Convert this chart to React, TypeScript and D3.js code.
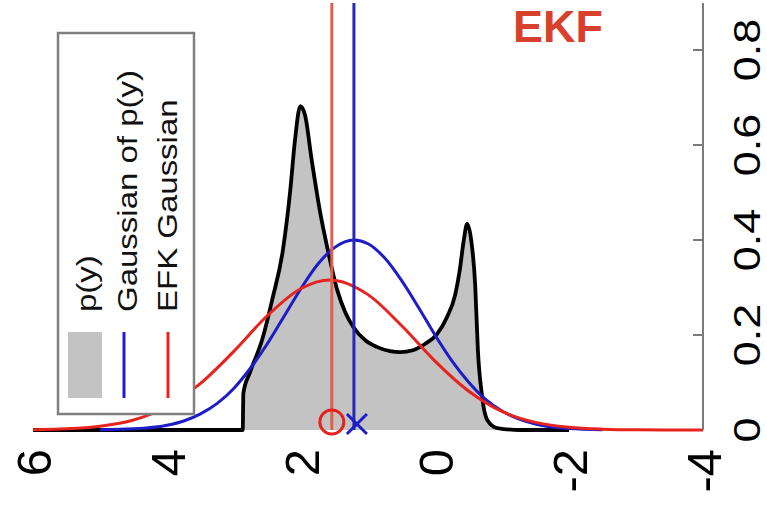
import React from 'react';
import * as d3 from 'd3';

// x values run from 6 (left) to -4 (right), densities on the right axis
const xTicks = [6, 4, 2, 0, -2, -4];
const yTicks = [0, 0.2, 0.4, 0.6, 0.8];
const yTickLabels = ['0', '0.2', '0.4', '0.6', '0.8'];

// p(y)
const pyX = [6, 2.87, 2.86, 2.76, 2.58, 2.43, 2.27, 2.16, 2.09, 2.01, 1.94, 1.84, 1.72, 1.6, 1.46, 1.34, 1.22, 1.04, 0.87, 0.67, 0.52, 0.33, 0.15, -0.03, -0.18, -0.3, -0.37, -0.43, -0.48, -0.54, -0.6, -0.64, -0.7, -0.78, -0.93, -1.27, -2.0];
const pyP = [0, 0, 0.078, 0.122, 0.19, 0.274, 0.379, 0.505, 0.61, 0.682, 0.663, 0.568, 0.463, 0.379, 0.295, 0.248, 0.217, 0.189, 0.175, 0.166, 0.164, 0.168, 0.181, 0.202, 0.238, 0.284, 0.337, 0.4, 0.434, 0.4, 0.305, 0.168, 0.074, 0.021, 0.004, 0, 0];

// Gaussian of p(y)
const gaussX = [5, 4.5, 4, 3.75, 3.5, 3.25, 3, 2.75, 2.5, 2.25, 2, 1.75, 1.5, 1.21, 1, 0.75, 0.5, 0.25, 0, -0.25, -0.5, -0.75, -1, -1.5, -2, -2.5];
const gaussP = [0.0005, 0.0024, 0.01, 0.019, 0.034, 0.056, 0.088, 0.131, 0.182, 0.24, 0.298, 0.349, 0.384, 0.4, 0.392, 0.362, 0.315, 0.259, 0.2, 0.146, 0.101, 0.065, 0.04, 0.0125, 0.003, 0.0006];

// EKF Gaussian
const ekfX = [6, 5.5, 5, 4.5, 4, 3.5, 3, 2.5, 2, 1.57, 1, 0.5, 0, -0.5, -1, -1.5, -2, -2.5, -3, -4];
const ekfP = [0.0007, 0.0024, 0.0078, 0.021, 0.049, 0.098, 0.166, 0.241, 0.298, 0.316, 0.285, 0.22, 0.145, 0.082, 0.039, 0.016, 0.0057, 0.0017, 0.0004, 0];

const gaussMean = 1.21;
const ekfMean = 1.54;

const legendLabels = ['p(y)', 'Gaussian of p(y)', 'EFK Gaussian'];

const RED = '#e8231e';
const BLUE = '#1c1cc8';
const FONT = '"Liberation Sans", Arial, Helvetica, sans-serif';

export default function App() {
  const W = 767;
  const H = 511;
  const x = d3.scaleLinear().domain([6, -4]).range([33, 703]);
  const y = d3.scaleLinear().domain([0, 0.9]).range([430, 2.5]);

  const py = pyX.map((v, i) => [v, pyP[i]] as [number, number]);
  const gauss = gaussX.map((v, i) => [v, gaussP[i]] as [number, number]);
  const ekf = ekfX.map((v, i) => [v, ekfP[i]] as [number, number]);

  const line = d3
    .line<[number, number]>()
    .x(d => x(d[0]))
    .y(d => y(d[1]))
    .curve(d3.curveMonotoneX);
  const area = d3
    .area<[number, number]>()
    .x(d => x(d[0]))
    .y0(y(0))
    .y1(d => y(d[1]))
    .curve(d3.curveMonotoneX);

  const x0 = x.range()[1];
  const base = y(0);

  return (
    <svg width={W} height={H} style={{ position: 'absolute', left: 0, top: 0, background: '#fff' }}>
      <path d={area(py) || ''} fill="#c3c3c3" />
      <path d={line(py) || ''} fill="none" stroke="#000" strokeWidth={3.8} strokeLinejoin="round" />
      <path d={line(gauss) || ''} fill="none" stroke={BLUE} strokeWidth={3} />
      <path d={line(ekf) || ''} fill="none" stroke={RED} strokeWidth={3} />

      {/* mean markers */}
      <line x1={x(ekfMean)} x2={x(ekfMean)} y1={3} y2={base} stroke="#e06050" strokeWidth={3} />
      <line x1={x(gaussMean)} x2={x(gaussMean)} y1={3} y2={base} stroke="#2626b8" strokeWidth={3} />
      <circle cx={x(ekfMean)} cy={base - 8} r={12} fill="none" stroke={RED} strokeWidth={3} />
      <path
        d={`M${x(gaussMean) - 7},${base - 16}L${x(gaussMean) + 13},${base + 4}M${x(gaussMean) + 13},${base - 16}L${x(gaussMean) - 7},${base + 4}`}
        stroke={BLUE}
        strokeWidth={3}
      />

      {/* right axis */}
      <line x1={x0} x2={x0} y1={3} y2={base} stroke="#7a7a7a" strokeWidth={2} />
      {yTicks.map((t, i) => (
        <g key={t}>
          {t > 0 && <line x1={x0 - 10} x2={x0} y1={y(t)} y2={y(t)} stroke="#7a7a7a" strokeWidth={2} />}
          <text
            transform={`translate(747,${y(t)}) rotate(-90) scale(1,0.8)`}
            textAnchor="middle"
            dy="0.36em"
            fontFamily={FONT}
            fontSize={45}
            fill="#000"
          >
            {yTickLabels[i]}
          </text>
        </g>
      ))}

      {/* bottom tick labels */}
      {xTicks.map(t => (
        <text
          key={t}
          transform={`translate(${x(t)},449) rotate(-90)`}
          textAnchor="end"
          dy="0.36em"
          fontFamily={FONT}
          fontSize={49}
          fill="#000"
        >
          {t}
        </text>
      ))}

      <text x={558} y={42} textAnchor="middle" fontFamily={FONT} fontWeight="bold" fontSize={45} fill="#d8402c">
        EKF
      </text>

      {/* legend */}
      <rect x={58} y={33} width={136} height={381} fill="#fff" stroke="#808080" strokeWidth={2.5} />
      <rect x={68} y={332} width={34} height={66} fill="#c3c3c3" />
      <line x1={124} x2={124} y1={332} y2={398} stroke={BLUE} strokeWidth={3} />
      <line x1={168} x2={168} y1={332} y2={398} stroke={RED} strokeWidth={3} />
      {legendLabels.map((s, i) => (
        <text
          key={s}
          transform={`translate(${96 + i * 40.5},312) rotate(-90) scale(1,0.82)`}
          fontFamily={FONT}
          fontSize={33}
          fill="#111"
        >
          {s}
        </text>
      ))}
    </svg>
  );
}
